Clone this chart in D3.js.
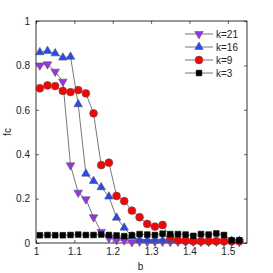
<!DOCTYPE html>
<html>
<head>
<meta charset="utf-8">
<script src="https://cdn.jsdelivr.net/npm/d3@7"></script>
<style>
  body { margin: 0; background: #fff; }
  text { font-family: "Liberation Sans", Arial, sans-serif; }
</style>
</head>
<body>
<div id="chart"></div>
<script>
var svgWidth = 273;
var svgHeight = 273;

var margin = { top: 21, right: 26, bottom: 30, left: 36 };

var chartWidth = svgWidth - margin.left - margin.right;
var chartHeight = svgHeight - margin.top - margin.bottom;

// data
var bValues = [1.01, 1.03, 1.05, 1.07, 1.09, 1.11, 1.13, 1.15, 1.17, 1.19, 1.21, 1.23, 1.25, 1.27,
  1.29, 1.31, 1.33, 1.35, 1.37, 1.39, 1.41, 1.43, 1.45, 1.47, 1.49, 1.51, 1.53];

var k21 = [0.80, 0.805, 0.772, 0.727, 0.35, 0.227, 0.197, 0.116, 0.05, 0.022, 0.013, 0.012, 0.004, 0.006,
  0.005, 0.006, 0.006, 0.005, 0.006, 0.005, 0.006, 0.005, 0.005, 0.006, 0.005, 0.005, 0.005];
var k16 = [0.859, 0.865, 0.854, 0.835, 0.839, 0.625, 0.312, 0.279, 0.251, 0.209, 0.114, 0.069, 0.03, 0.014,
  0.013, 0.012, 0.012, 0.012, 0.011, 0.01, 0.01, 0.01, 0.01, 0.01, 0.01, 0.01, 0.01];
var k9 = [0.697, 0.71, 0.707, 0.685, 0.68, 0.689, 0.674, 0.584, 0.351, 0.362, 0.212, 0.189, 0.146, 0.116,
  0.086, 0.074, 0.081, 0.026, 0.012, 0.01, 0.008, 0.008, 0.008, 0.008, 0.008, 0.008, 0.008];
var k3 = [0.035, 0.036, 0.035, 0.035, 0.036, 0.038, 0.036, 0.036, 0.038, 0.036, 0.034, 0.031, 0.035, 0.04,
  0.038, 0.036, 0.042, 0.04, 0.04, 0.038, 0.032, 0.04, 0.038, 0.043, 0.036, 0.012, 0.012];

var seriesNames = ["k=21", "k=16", "k=9", "k=3"];
var seriesValues = [k21, k16, k9, k3];
var seriesColors = ["#9b30f0", "#2448ff", "#ff0000", "#000000"];
var seriesSymbols = ["down", "up", "circle", "square"];

var xTicks = [1, 1.1, 1.2, 1.3, 1.4, 1.5];
var yTicks = [0, 0.2, 0.4, 0.6, 0.8, 1];

var svg = d3.select("#chart")
  .append("svg")
  .attr("width", svgWidth)
  .attr("height", svgHeight);

var g = svg.append("g")
  .attr("transform", `translate(${margin.left}, ${margin.top})`);

var x = d3.scaleLinear().domain([1, 1.55]).range([0, chartWidth]);
var y = d3.scaleLinear().domain([0, 1]).range([chartHeight, 0]);

function styleAxis(sel, showText) {
  sel.select(".domain").remove();
  sel.selectAll(".tick line").attr("stroke", "#000").attr("stroke-width", 0.6);
  sel.selectAll(".tick text")
    .attr("font-size", "10px")
    .attr("fill", showText ? "#222" : "none");
}

g.append("g")
  .attr("transform", `translate(0, ${chartHeight})`)
  .call(d3.axisBottom(x).tickValues(xTicks).tickSize(-3).tickPadding(5).tickFormat(d3.format("")))
  .call(s => styleAxis(s, true));
g.append("g")
  .call(d3.axisTop(x).tickValues(xTicks).tickSize(-3).tickFormat(""))
  .call(s => styleAxis(s, false));
g.append("g")
  .call(d3.axisLeft(y).tickValues(yTicks).tickSize(-3).tickPadding(6).tickFormat(d3.format("")))
  .call(s => styleAxis(s, true));
g.append("g")
  .attr("transform", `translate(${chartWidth}, 0)`)
  .call(d3.axisRight(y).tickValues(yTicks).tickSize(-3).tickFormat(""))
  .call(s => styleAxis(s, false));

g.append("rect")
  .attr("width", chartWidth)
  .attr("height", chartHeight)
  .attr("fill", "none")
  .attr("stroke", "#000")
  .attr("stroke-width", 0.8);

function symbolPath(kind) {
  if (kind == "down") return d3.symbol().type(d3.symbolTriangle).size(31)();
  if (kind == "up") return d3.symbol().type(d3.symbolTriangle).size(31)();
  if (kind == "circle") return d3.symbol().type(d3.symbolCircle).size(48)();
  return d3.symbol().type(d3.symbolSquare).size(32)();
}

function drawMarker(sel, kind, color) {
  sel.append("path")
    .attr("d", symbolPath(kind))
    .attr("transform", kind == "down" ? "rotate(180)" : null)
    .attr("fill", color)
    .attr("stroke", kind == "square" ? "#000" : "#555")
    .attr("stroke-width", 0.6);
}

var line = d3.line()
  .x((d, i) => x(bValues[i]))
  .y(d => y(d));

seriesValues.forEach(function(vals, si) {
  g.append("path")
    .datum(vals)
    .attr("d", line)
    .attr("fill", "none")
    .attr("stroke", "#555")
    .attr("stroke-width", 0.8);

  g.selectAll(".m" + si)
    .data(vals)
    .enter()
    .append("g")
    .attr("transform", (d, i) => `translate(${x(bValues[i])}, ${y(d)})`)
    .each(function() { drawMarker(d3.select(this), seriesSymbols[si], seriesColors[si]); });
});

// legend
var legend = g.append("g").attr("transform", "translate(149, 13)");
seriesNames.forEach(function(name, i) {
  var row = legend.append("g").attr("transform", `translate(0, ${i * 13})`);
  row.append("line")
    .attr("x1", 0).attr("x2", 28)
    .attr("stroke", "#555").attr("stroke-width", 0.8);
  var m = row.append("g").attr("transform", "translate(14, 0)");
  drawMarker(m, seriesSymbols[i], seriesColors[i]);
  row.append("text")
    .attr("x", 31).attr("y", 3.5)
    .attr("font-size", "10px")
    .attr("fill", "#222")
    .text(name);
});

// axis labels
svg.append("text")
  .attr("x", margin.left + chartWidth / 2 - 1)
  .attr("y", 270)
  .attr("text-anchor", "middle")
  .attr("font-size", "10px")
  .attr("fill", "#222")
  .text("b");

svg.append("text")
  .attr("transform", `translate(11, ${margin.top + chartHeight / 2}) rotate(-90)`)
  .attr("text-anchor", "middle")
  .attr("font-size", "10px")
  .attr("fill", "#222")
  .text("fc");
</script>
</body>
</html>
